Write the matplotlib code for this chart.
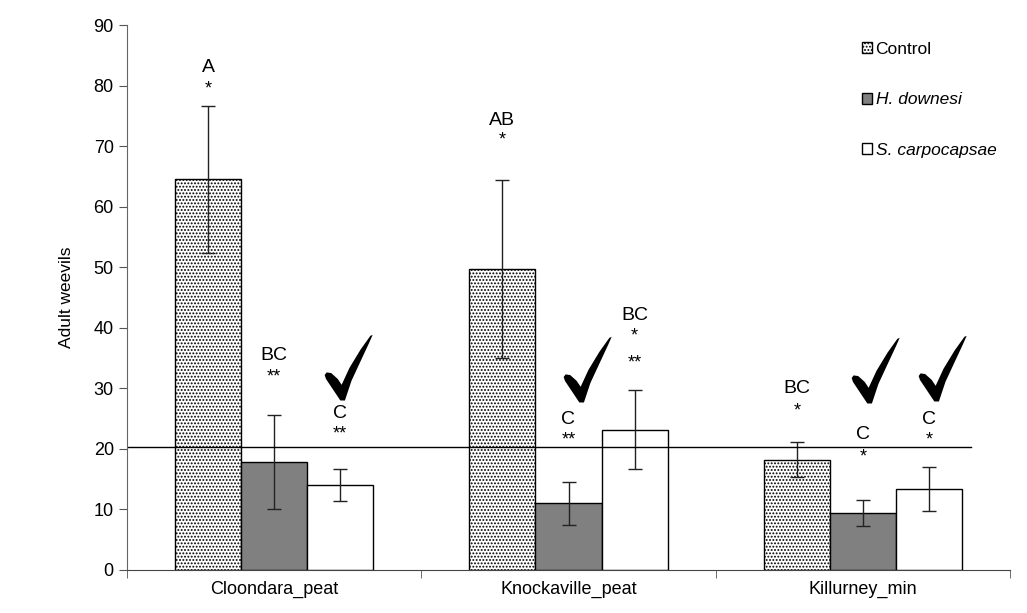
import numpy as np
import matplotlib
matplotlib.use('Agg')
import matplotlib.pyplot as plt
from matplotlib.path import Path

plt.rcParams['font.family'] = ['Liberation Sans', 'DejaVu Sans']
plt.rcParams['hatch.linewidth'] = 0.9
plt.rcParams['hatch.color'] = '#555555'

# data
sites = ['Cloondara_peat', 'Knockaville_peat', 'Killurney_min']
treatments = ['Control', 'H. downesi', 'S. carpocapsae']
control_mean = [64.5, 49.7, 18.2]
control_err = [12.2, 14.7, 2.9]
hd_mean = [17.8, 11.0, 9.4]
hd_err = [7.8, 3.6, 2.2]
sc_mean = [14.0, 23.2, 13.4]
sc_err = [2.6, 6.5, 3.6]
threshold = 20.3

# letters / asterisks above each bar (site, treatment)
letters = [['A', 'BC', 'C'], ['AB', 'C', 'BC'], ['BC', 'C', 'C']]
stars = [['*', '**', '**'], ['*', '**', '*\n\n**'], ['*', '*', '*']]
checked = [[False, False, True], [False, True, False], [False, True, True]]

means = [control_mean, hd_mean, sc_mean]
errs = [control_err, hd_err, sc_err]
colors = ['white', '#808080', 'white']
hatches = ['.....', None, None]

# tick mark shape (calligraphic check)
pts = [(120, 332), (100, 302), (76, 266), (72, 254), (78, 246), (92, 248),
       (112, 266), (124, 284), (148, 232), (182, 176), (212, 134), (219, 131),
       (208, 156), (180, 216), (154, 272), (134, 332), (120, 332)]
verts = [(px - 145, 231 - py) for px, py in pts]
codes = [Path.MOVETO] + [Path.LINETO] * (len(verts) - 2) + [Path.CLOSEPOLY]
check_marker = Path(verts, codes)

fig = plt.figure(figsize=(10.27, 6.13), dpi=100)
ax = fig.add_axes([127 / 1027, 43 / 613, 883 / 1027, 545 / 613])

x = np.arange(len(sites))
w = 0.2245
for i in range(3):
    ax.bar(x + (i - 1) * w, means[i], w, yerr=errs[i], color=colors[i],
           edgecolor='black', linewidth=1.0, hatch=hatches[i], label=treatments[i],
           error_kw=dict(ecolor='#222222', elinewidth=1.0, capsize=5, capthick=1.0))

ax.plot([-0.5, 2.368], [threshold, threshold], color='black', linewidth=1.0)

# text positions (data units) for letter and star rows, and check offsets
letter_y = [[82.9, 35.5, 25.9], [74.3, 24.9, 42.1], [29.9, 22.3, 24.8]]
star_y = [[79.4, 31.9, 22.5], [71.0, 21.5, 36.4], [26.3, 18.7, 21.5]]
check_dx = [[0, 0, 0.025], [0, 0.062, 0], [0, 0.04, 0.044]]
check_y = [[0, 0, 33.5], [0, 33.2, 0], [0, 33.0, 33.4]]
for s in range(3):
    for t in range(3):
        xc = x[s] + (t - 1) * w
        ax.text(xc, letter_y[s][t], letters[s][t], ha='center', va='center', fontsize=14)
        ax.text(xc, star_y[s][t], stars[s][t], ha='center', va='center', fontsize=13,
                linespacing=0.75)
        if checked[s][t]:
            ax.plot(xc + check_dx[s][t], check_y[s][t], marker=check_marker,
                    markersize=47.5, color='black', markeredgewidth=0, linestyle='none')

ax.set_xlim(-0.5, 2.5)
ax.set_ylim(0, 90)
ax.set_yticks(range(0, 91, 10))
ax.set_xticks(x)
ax.set_xticklabels(sites, fontsize=13)
ax.set_xticks([-0.5, 0.5, 1.5, 2.5], minor=True)
ax.tick_params(axis='x', which='major', length=0, pad=8)
ax.tick_params(axis='x', which='minor', length=6, direction='out', color='#555555')
ax.tick_params(axis='y', length=6, direction='out', labelsize=13, color='#555555')
ax.spines['top'].set_visible(False)
ax.spines['right'].set_visible(False)
ax.spines['left'].set_color('#666666')
ax.spines['bottom'].set_color('#444444')
ax.set_ylabel('Adult weevils', fontsize=12.5, labelpad=14)

leg = ax.legend(loc='upper left', bbox_to_anchor=(846 / 1027, 1 - 26 / 613),
                bbox_transform=fig.transFigure, frameon=False, fontsize=12.5,
                handlelength=0.6, handleheight=0.6, handletextpad=0.2,
                labelspacing=2.05)
for txt in leg.get_texts()[1:]:
    txt.set_style('italic')

fig.savefig('out.png', dpi=100)
